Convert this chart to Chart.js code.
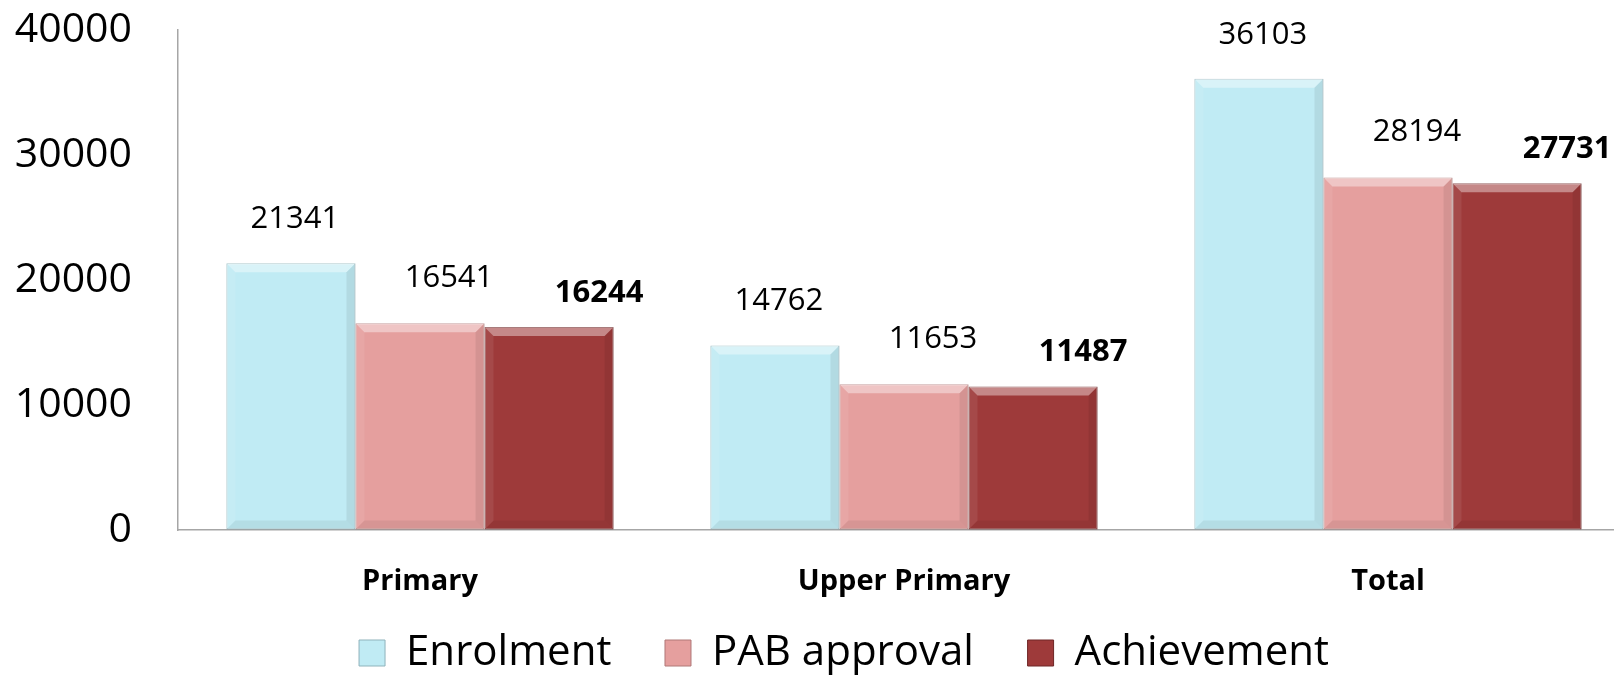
<!DOCTYPE html>
<html>
<head>
<meta charset="utf-8">
<script src="https://cdn.jsdelivr.net/npm/chart.js@4.4.1/dist/chart.umd.min.js"></script>
<style>
  html, body { margin: 0; padding: 0; background: #fff; overflow: hidden; }
  canvas { display: block; }
</style>
</head>
<body>
<canvas id="chart" width="1640" height="684"></canvas>
<script>
// Chart data
const categories = ['Primary', 'Upper Primary', 'Total'];
const enrolment = [21341, 14762, 36103];
const pabApproval = [16541, 11653, 28194];
const achievement = [16244, 11487, 27731];
const yTicks = [0, 10000, 20000, 30000, 40000];

const FONT = "'Open Sans', 'Noto Sans', sans-serif";

// Bevel look for the bars (drawn over each bar element)
const bevelPlugin = {
  id: 'bevel',
  afterDatasetsDraw(chart) {
    const ctx = chart.ctx;
    chart.data.datasets.forEach((ds, i) => {
      chart.getDatasetMeta(i).data.forEach(bar => {
        const { x, y, width, base } = bar.getProps(['x', 'y', 'width', 'base'], true);
        const l = x - width / 2, r = x + width / 2, t = y, b = base;
        const d = 9;
        ctx.save();
        ctx.fillStyle = 'rgba(255,255,255,0.4)';
        ctx.beginPath();
        ctx.moveTo(l, t); ctx.lineTo(r, t); ctx.lineTo(r - d, t + d); ctx.lineTo(l + d, t + d);
        ctx.closePath(); ctx.fill();
        ctx.fillStyle = 'rgba(255,255,255,0.08)';
        ctx.beginPath();
        ctx.moveTo(l, t); ctx.lineTo(l + d, t + d); ctx.lineTo(l + d, b - d); ctx.lineTo(l, b);
        ctx.closePath(); ctx.fill();
        ctx.fillStyle = 'rgba(0,0,0,0.07)';
        ctx.beginPath();
        ctx.moveTo(r, t); ctx.lineTo(r - d, t + d); ctx.lineTo(r - d, b - d); ctx.lineTo(r, b);
        ctx.closePath(); ctx.fill();
        ctx.fillStyle = 'rgba(0,0,0,0.06)';
        ctx.beginPath();
        ctx.moveTo(l, b); ctx.lineTo(l + d, b - d); ctx.lineTo(r - d, b - d); ctx.lineTo(r, b);
        ctx.closePath(); ctx.fill();
        ctx.restore();
      });
    });
  }
};

// Value labels above the bars
const valueLabels = {
  id: 'valueLabels',
  afterDatasetsDraw(chart) {
    const ctx = chart.ctx;
    chart.data.datasets.forEach((ds, i) => {
      ctx.save();
      ctx.font = `${ds.labelWeight} 31px ${FONT}`;
      ctx.fillStyle = '#000';
      ctx.textAlign = 'center';
      ctx.textBaseline = 'middle';
      chart.getDatasetMeta(i).data.forEach((bar, j) => {
        ctx.fillText(String(ds.data[j]), bar.x + ds.labelDx, bar.y - ds.labelDy);
      });
      ctx.restore();
    });
  }
};

// Nudge the legend a little to the right, like the original
const legendShift = {
  id: 'legendShift',
  afterLayout(chart) {
    if (chart.legend) {
      chart.legend.left += 29;
      chart.legend.right += 29;
    }
  }
};

new Chart(document.getElementById('chart'), {
  type: 'bar',
  data: {
    labels: categories,
    datasets: [
      {
        label: 'Enrolment',
        data: enrolment,
        backgroundColor: '#c0ebf4',
        borderColor: '#8fb3bb',
        labelWeight: 'normal', labelDx: 4, labelDy: 44
      },
      {
        label: 'PAB approval',
        data: pabApproval,
        backgroundColor: '#e59f9e',
        borderColor: '#b07877',
        labelWeight: 'normal', labelDx: 29, labelDy: 45
      },
      {
        label: 'Achievement',
        data: achievement,
        backgroundColor: '#9e3a3a',
        borderColor: '#6e2626',
        labelWeight: 'bold', labelDx: 50, labelDy: 34
      }
    ]
  },
  options: {
    responsive: false,
    animation: false,
    layout: { padding: { top: 30, right: 10, left: 0, bottom: 0 } },
    datasets: {
      bar: {
        categoryPercentage: 0.8,
        barPercentage: 1.0,
        borderWidth: 1,
        borderSkipped: false
      }
    },
    scales: {
      x: {
        grid: { display: false },
        border: { display: true, color: '#a6a6a6', width: 1.5 },
        ticks: { color: '#000', font: { family: FONT, size: 29, weight: 'bold' }, padding: 26 },
        afterFit: scale => { scale.height = 92; }
      },
      y: {
        min: 0,
        max: 40000,
        grid: { display: true, drawOnChartArea: false, drawTicks: true, tickLength: 46, tickColor: 'rgba(0,0,0,0)' },
        border: { display: true, color: '#a6a6a6', width: 1.5 },
        afterBuildTicks: scale => { scale.ticks = yTicks.map(v => ({ value: v })); },
        ticks: {
          color: '#000',
          font: { family: FONT, size: 41 },
          padding: 0,
          callback: value => String(value)
        },
        afterFit: scale => { scale.width = 178; }
      }
    },
    plugins: {
      legend: {
        position: 'bottom',
        labels: {
          color: '#000',
          font: { family: FONT, size: 42 },
          boxWidth: 26,
          boxHeight: 26,
          padding: 10,
          // extra gap between legend entries
          generateLabels: chart => {
            const items = Chart.defaults.plugins.legend.labels.generateLabels(chart);
            items.forEach((item, i) => {
              item.lineWidth = 1;
              if (i < items.length - 1) item.text += '    ';
            });
            return items;
          }
        }
      },
      tooltip: { enabled: false }
    }
  },
  plugins: [bevelPlugin, valueLabels, legendShift]
});
</script>
</body>
</html>
